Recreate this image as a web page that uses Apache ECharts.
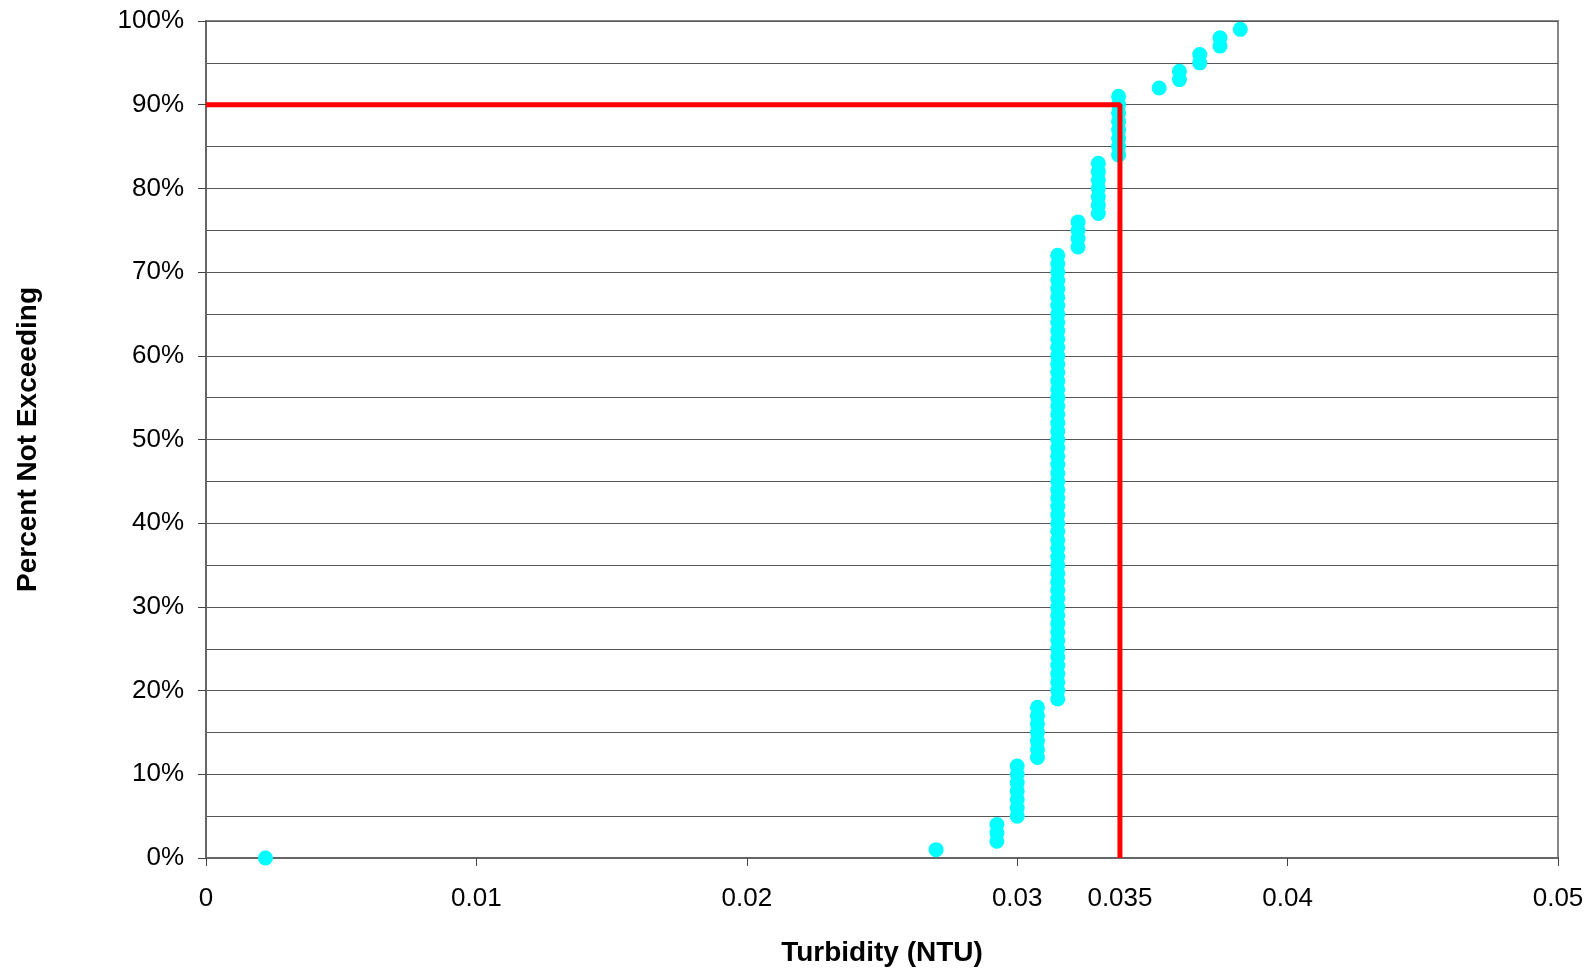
<!DOCTYPE html>
<html>
<head>
<meta charset="utf-8">
<script src="https://cdn.jsdelivr.net/npm/echarts@6/dist/echarts.min.js"></script>
<style>
html,body{margin:0;padding:0;background:#fff;}
#chart{width:1593px;height:972px;}
</style>
</head>
<body>
<div id="chart"></div>
<script>
// Turbidity (NTU) for each ranked sample
const turbidity = [
  0.0022,
  0.027,
  0.02925, 0.02925, 0.02925,
  0.030, 0.030, 0.030, 0.030, 0.030, 0.030, 0.030,
  0.03075, 0.03075, 0.03075, 0.03075, 0.03075, 0.03075, 0.03075,
  0.0315, 0.0315, 0.0315, 0.0315, 0.0315, 0.0315, 0.0315, 0.0315, 0.0315, 0.0315,
  0.0315, 0.0315, 0.0315, 0.0315, 0.0315, 0.0315, 0.0315, 0.0315, 0.0315, 0.0315,
  0.0315, 0.0315, 0.0315, 0.0315, 0.0315, 0.0315, 0.0315, 0.0315, 0.0315, 0.0315,
  0.0315, 0.0315, 0.0315, 0.0315, 0.0315, 0.0315, 0.0315, 0.0315, 0.0315, 0.0315,
  0.0315, 0.0315, 0.0315, 0.0315, 0.0315, 0.0315, 0.0315, 0.0315, 0.0315, 0.0315,
  0.0315, 0.0315, 0.0315, 0.0315,
  0.03225, 0.03225, 0.03225, 0.03225,
  0.033, 0.033, 0.033, 0.033, 0.033, 0.033, 0.033,
  0.03375, 0.03375, 0.03375, 0.03375, 0.03375, 0.03375, 0.03375, 0.03375,
  0.03525,
  0.036, 0.036,
  0.03675, 0.03675,
  0.0375, 0.0375,
  0.03825
];
// Percent not exceeding for each sample
const percentNotExceeding = [
  0, 1, 2, 3, 4, 5, 6, 7, 8, 9,
  10, 11, 12, 13, 14, 15, 16, 17, 18, 19,
  20, 21, 22, 23, 24, 25, 26, 27, 28, 29,
  30, 31, 32, 33, 34, 35, 36, 37, 38, 39,
  40, 41, 42, 43, 44, 45, 46, 47, 48, 49,
  50, 51, 52, 53, 54, 55, 56, 57, 58, 59,
  60, 61, 62, 63, 64, 65, 66, 67, 68, 69,
  70, 71, 72, 73, 74, 75, 76, 77, 78, 79,
  80, 81, 82, 83, 84, 85, 86, 87, 88, 89,
  90, 91, 92, 93, 94, 95, 96, 97, 98, 99
];
// 90th percentile marker
const markerPercent = 90;
const markerTurbidity = 0.0338;
const markerLabel = '0.035';

const xTitle = 'Turbidity (NTU)';
const yTitle = 'Percent Not Exceeding';

const points = turbidity.map((t, i) => [t, percentNotExceeding[i]]);
const redPath = [[0, markerPercent], [markerTurbidity, markerPercent], [markerTurbidity, 0]];

const FONT = '"Liberation Sans", Arial, sans-serif';
const TICK_SIZE = 26;
const TITLE_SIZE = 28;
const chart = echarts.init(document.getElementById('chart'), null, {renderer: 'canvas'});
chart.setOption({
  animation: false,
  backgroundColor: '#ffffff',
  grid: {
    left: 206, right: 35, top: 21, bottom: 112,
    show: true, borderColor: '#888888', borderWidth: 2, backgroundColor: 'transparent'
  },
  xAxis: {
    type: 'value', min: 0, max: 0.05, interval: 0.01,
    name: xTitle, nameLocation: 'middle', nameGap: 81,
    nameTextStyle: {fontFamily: FONT, fontSize: TITLE_SIZE, fontWeight: 'bold', color: '#000'},
    axisLine: {show: true, onZero: false, lineStyle: {color: '#666666', width: 2}},
    axisTick: {show: true, inside: false, length: 8, lineStyle: {color: '#444', width: 1}},
    axisLabel: {
      fontFamily: FONT, fontSize: TICK_SIZE, color: '#000', margin: 28,
      formatter: v => (v === 0 ? '0' : String(+v.toFixed(3)))
    },
    splitLine: {show: false}
  },
  yAxis: {
    type: 'value', min: 0, max: 100, interval: 10,
    name: yTitle, nameLocation: 'middle', nameGap: 164, nameRotate: 90,
    nameTextStyle: {fontFamily: FONT, fontSize: TITLE_SIZE, fontWeight: 'bold', color: '#000'},
    axisLine: {show: true, onZero: false, lineStyle: {color: '#666666', width: 2}},
    axisTick: {show: true, inside: false, length: 8, lineStyle: {color: '#444', width: 1}},
    axisLabel: {fontFamily: FONT, fontSize: TICK_SIZE, color: '#000', margin: 22, formatter: '{value}%'},
    splitLine: {show: true, lineStyle: {color: '#555555', width: 1}},
    minorTick: {show: false, splitNumber: 2},
    minorSplitLine: {show: true, lineStyle: {color: '#555555', width: 1}}
  },
  series: [
    {
      type: 'scatter',
      data: points,
      symbol: 'circle',
      symbolSize: 15,
      itemStyle: {color: '#00FFFF', opacity: 1},
      clip: false,
      z: 3
    },
    {
      type: 'line',
      data: redPath,
      symbol: 'none',
      lineStyle: {color: '#FF0000', width: 5},
      z: 4
    },
    {
      type: 'scatter',
      data: [[markerTurbidity, 0]],
      symbolSize: 0,
      silent: true,
      clip: false,
      itemStyle: {opacity: 1, color: '#000'},
      label: {
        show: true, position: 'bottom', distance: 28,
        formatter: markerLabel,
        fontFamily: FONT, fontSize: TICK_SIZE, color: '#000', opacity: 1
      },
      z: 5
    }
  ]
});
</script>
</body>
</html>
